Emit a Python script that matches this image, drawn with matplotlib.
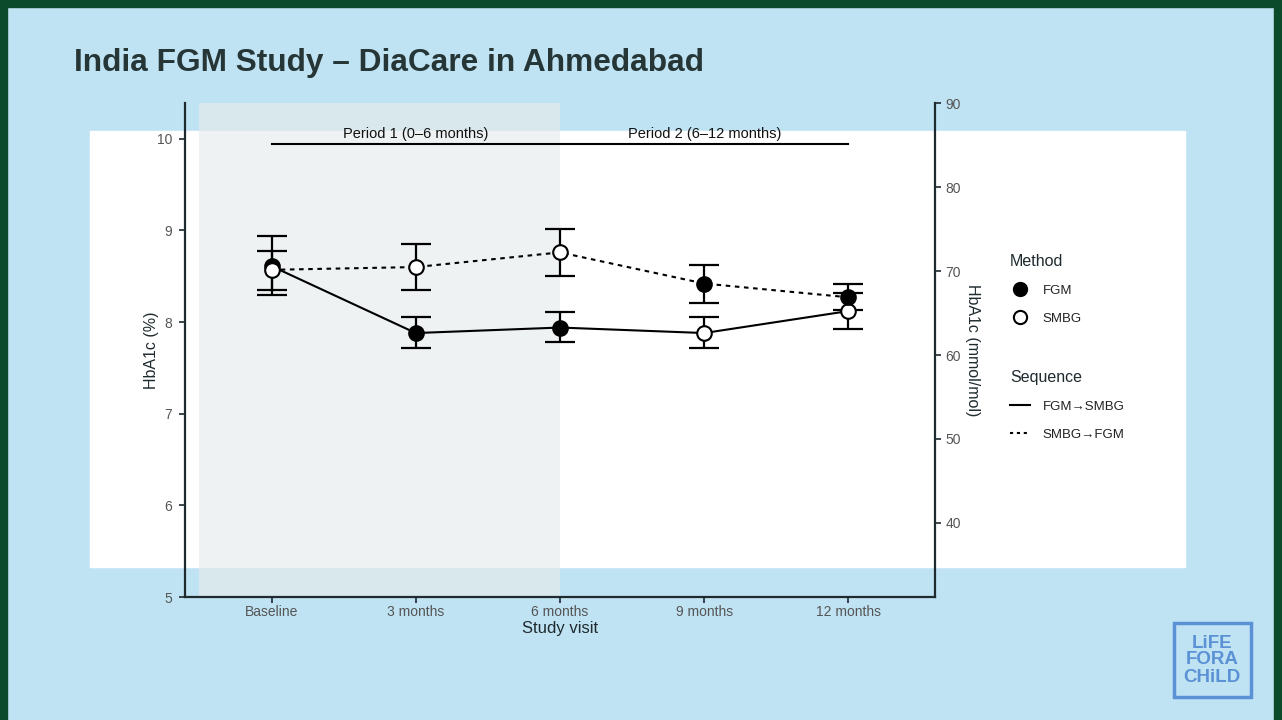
import matplotlib.pyplot as plt
from matplotlib.lines import Line2D
from matplotlib.patches import Rectangle

plt.rcParams['font.family'] = ['Liberation Sans', 'DejaVu Sans']

# data (HbA1c %)
visits = ['Baseline', '3 months', '6 months', '9 months', '12 months']

# sequence FGM -> SMBG (solid line)
seq1_mean = [8.61, 7.88, 7.94, 7.88, 8.12]
seq1_lo = [8.29, 7.72, 7.78, 7.72, 7.92]
seq1_hi = [8.94, 8.05, 8.11, 8.05, 8.32]
seq1_fgm = [True, True, True, False, False]

# sequence SMBG -> FGM (dotted line)
seq2_mean = [8.57, 8.60, 8.76, 8.42, 8.27]
seq2_lo = [8.35, 8.35, 8.50, 8.21, 8.13]
seq2_hi = [8.78, 8.85, 9.02, 8.62, 8.41]
seq2_fgm = [False, False, False, True, True]

periods = ['Period 1 (0\u20136 months)', 'Period 2 (6\u201312 months)']
period_pos = [1, 3]

blue_bg = '#c0e3f3'
green = '#0b4a2a'
ink = '#1e2a2e'

fig = plt.figure(figsize=(12.82, 7.2), dpi=100)
fig.patch.set_facecolor(blue_bg)

# slide frame
fig.patches.append(Rectangle((0, 0.99), 1, 0.01, transform=fig.transFigure,
                             color=green, zorder=-5))
fig.patches.append(Rectangle((0, 0), 0.0055, 1, transform=fig.transFigure,
                             color=green, zorder=-5))
fig.patches.append(Rectangle((0.9938, 0), 0.0062, 1, transform=fig.transFigure,
                             color=green, zorder=-5))
# white paper behind the chart
fig.patches.append(Rectangle((90 / 1282, 1 - 567 / 720), 1095 / 1282, 436 / 720,
                             transform=fig.transFigure, color='white', zorder=-5))

fig.text(74 / 1282, 1 - 63 / 720, 'India FGM Study \u2013 DiaCare in Ahmedabad',
         fontsize=22.8, fontweight='bold', color='#263636', va='center', ha='left')

ax = fig.add_axes([185 / 1282, 1 - 597 / 720, 750 / 1282, 494 / 720])
ax.set_facecolor('none')
x = list(range(len(visits)))

ax.axvspan(-0.5, 2.0, color='#e5ebeb', alpha=0.65, lw=0, zorder=0)


def draw_seq(mean, lo, hi, fgm, ls):
    ax.plot(x, mean, color='black', ls=ls, lw=1.5, zorder=2)
    yerr = [[m - l for m, l in zip(mean, lo)], [h - m for m, h in zip(mean, hi)]]
    ax.errorbar(x, mean, yerr=yerr, fmt='none', ecolor='black', elinewidth=1.6,
                capsize=11, capthick=1.6, zorder=3)
    for xi, m, f in zip(x, mean, fgm):
        ax.plot(xi, m, marker='o', ms=10.5, mec='black', mew=1.5,
                mfc='black' if f else 'white', ls='none', zorder=4)


draw_seq(seq1_mean, seq1_lo, seq1_hi, seq1_fgm, '-')
draw_seq(seq2_mean, seq2_lo, seq2_hi, seq2_fgm, (0, (2.2, 2.2)))

# period bar
ax.plot([0, 4], [9.945, 9.945], color='black', lw=1.5)
for t, p in zip(periods, period_pos):
    ax.text(p, 10.055, t, ha='center', va='center', fontsize=10.5, color='#111111')

ax.set_xlim(-0.6, 4.6)
ax.set_ylim(5, 10.39)
ax.set_xticks(x)
ax.set_xticklabels(visits)
ax.set_yticks([5, 6, 7, 8, 9, 10])
ax.set_xlabel('Study visit', fontsize=12, color=ink, labelpad=1)
ax.set_ylabel('HbA1c (%)', fontsize=11.5, color=ink, labelpad=-1)
for s in ['top', 'right']:
    ax.spines[s].set_visible(False)
for s in ['left', 'bottom']:
    ax.spines[s].set_color(ink)
    ax.spines[s].set_linewidth(1.6)
ax.tick_params(colors=ink, labelcolor='#555555', labelsize=10, length=4, width=1.2)
ax.tick_params(axis='x', pad=2)
ax.tick_params(axis='y', pad=5)

ax2 = ax.twinx()
lo_pct, hi_pct = ax.get_ylim()
ax2.set_ylim((lo_pct - 2.15) * 10.929, (hi_pct - 2.15) * 10.929)
ax2.set_yticks([40, 50, 60, 70, 80, 90])
ax2.set_ylabel('HbA1c (mmol/mol)', fontsize=11.5, color=ink, rotation=-90, labelpad=14)
for s in ['top', 'left', 'bottom']:
    ax2.spines[s].set_visible(False)
ax2.spines['right'].set_color(ink)
ax2.spines['right'].set_linewidth(1.6)
ax2.tick_params(colors=ink, labelcolor='#555555', labelsize=10, length=4, width=1.2)

# legends
method_handles = [
    Line2D([], [], marker='o', ls='none', ms=9.5, mec='black', mfc='black', mew=1.5),
    Line2D([], [], marker='o', ls='none', ms=9.5, mec='black', mfc='white', mew=1.5),
]
seq_handles = [
    Line2D([], [], color='black', lw=1.5),
    Line2D([], [], color='black', lw=1.5, ls=(0, (1.5, 1.8))),
]
leg1 = fig.legend(method_handles, ['FGM', 'SMBG'], title='Method',
                  loc='upper left', bbox_to_anchor=(998 / 1282, 1 - 242 / 720),
                  frameon=False, fontsize=9.5, title_fontsize=11.5,
                  handlelength=1.5, handletextpad=1.0, labelspacing=1.2,
                  alignment='left')
leg2 = fig.legend(seq_handles, ['FGM\u2192SMBG', 'SMBG\u2192FGM'], title='Sequence',
                  loc='upper left', bbox_to_anchor=(998 / 1282, 1 - 358 / 720),
                  frameon=False, fontsize=9.5, title_fontsize=11.5,
                  handlelength=1.5, handletextpad=1.0, labelspacing=1.2,
                  alignment='left')
for lg in (leg1, leg2):
    lg.get_title().set_color(ink)
    for t in lg.get_texts():
        t.set_color('#222222')

# logo
fig.patches.append(Rectangle((1174 / 1282, 1 - 697 / 720), 77 / 1282, 74 / 720,
                             transform=fig.transFigure, fill=False,
                             ec='#5b92d6', lw=2.5, zorder=1))
fig.text(1212 / 1282, 1 - 660 / 720, 'LiFE\nFORA\nCHiLD', ha='center', va='center',
         fontsize=13.5, fontweight='bold', color='#5b92d6', linespacing=1.0)

fig.savefig('out.png', dpi=100, facecolor=fig.get_facecolor())
